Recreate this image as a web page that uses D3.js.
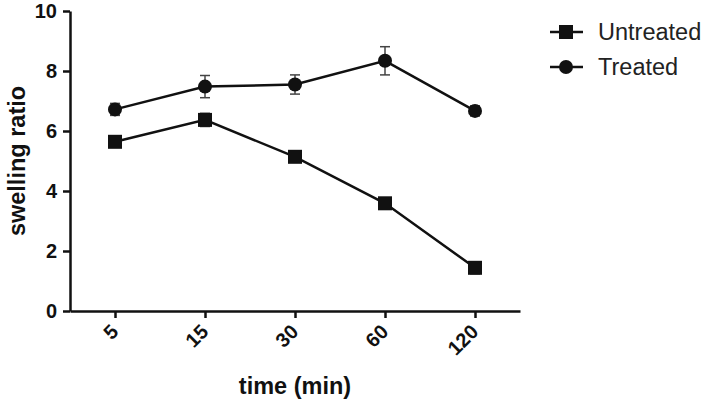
<!DOCTYPE html>
<html>
<head>
<meta charset="utf-8">
<script src="https://cdn.jsdelivr.net/npm/d3@7/dist/d3.min.js"></script>
<style>
  html, body { margin: 0; padding: 0; background: #fff; }
  svg { display: block; font-family: "Liberation Sans", Arial, sans-serif; }
</style>
</head>
<body>
<div id="chart"></div>
<script>
// data
const timeLabels = ['5', '15', '30', '60', '120'];
const untreated = [5.64, 6.37, 5.14, 3.59, 1.44];
const untreatedErr = [0.1, 0.22, 0.1, 0.1, 0.2];
const treated = [6.72, 7.48, 7.55, 8.34, 6.67];
const treatedErr = [0.2, 0.37, 0.32, 0.47, 0.17];
const yTicks = [0, 2, 4, 6, 8, 10];

const width = 704;
const height = 406;
const margin = { top: 11, right: 184, bottom: 95, left: 70 };
const ink = '#111';

const svg = d3.select('#chart').append('svg')
  .attr('width', width)
  .attr('height', height);

const x = d3.scalePoint()
  .domain(timeLabels)
  .range([margin.left, width - margin.right])
  .padding(0.5);

const y = d3.scaleLinear()
  .domain([0, 10])
  .range([height - margin.bottom, margin.top]);

// X axis
const xAxis = svg.append('g')
  .attr('transform', `translate(0,${height - margin.bottom})`)
  .call(d3.axisBottom(x).tickSize(7).tickSizeOuter(0));
xAxis.selectAll('text')
  .attr('font-size', '20px')
  .attr('font-weight', 'bold')
  .attr('fill', ink)
  .attr('text-anchor', 'end')
  .attr('y', 0)
  .attr('dy', 0)
  .attr('transform', 'translate(4,22) rotate(-45)');

// Y axis
const yAxis = svg.append('g')
  .attr('transform', `translate(${margin.left},0)`)
  .call(d3.axisLeft(y).tickValues(yTicks).tickSize(7).tickSizeOuter(0));
yAxis.selectAll('text')
  .attr('font-size', '20px')
  .attr('font-weight', 'bold')
  .attr('fill', ink)
  .attr('x', -13);

svg.selectAll('.domain, .tick line')
  .attr('stroke', ink)
  .attr('stroke-width', 2.5);

// axis titles
svg.append('text')
  .attr('transform', `translate(25,${y(5)}) rotate(-90)`)
  .attr('text-anchor', 'middle')
  .attr('font-size', '23.5px')
  .attr('font-weight', 'bold')
  .attr('fill', ink)
  .text('swelling ratio');

svg.append('text')
  .attr('x', x('30'))
  .attr('y', 394)
  .attr('text-anchor', 'middle')
  .attr('font-size', '23.5px')
  .attr('font-weight', 'bold')
  .attr('fill', ink)
  .text('time (min)');

const series = [
  { name: 'Untreated', values: untreated, err: untreatedErr, shape: 'square' },
  { name: 'Treated', values: treated, err: treatedErr, shape: 'circle' }
];

const line = d3.line()
  .x(d => x(d.t))
  .y(d => y(d.v));

function drawMarker(g, shape, cx, cy) {
  if (shape === 'square') {
    g.append('rect')
      .attr('x', cx - 7).attr('y', cy - 7)
      .attr('width', 14).attr('height', 14)
      .attr('fill', ink);
  } else {
    g.append('circle')
      .attr('cx', cx).attr('cy', cy).attr('r', 7)
      .attr('fill', ink);
  }
}

series.forEach(s => {
  const pts = timeLabels.map((t, i) => ({ t, v: s.values[i], e: s.err[i] }));
  const g = svg.append('g');

  // error bars
  pts.forEach(p => {
    const cx = x(p.t);
    const top = y(p.v + p.e);
    const bot = y(p.v - p.e);
    g.append('line')
      .attr('x1', cx).attr('x2', cx).attr('y1', top).attr('y2', bot)
      .attr('stroke', '#444').attr('stroke-width', 1.5);
    [top, bot].forEach(yy => g.append('line')
      .attr('x1', cx - 5).attr('x2', cx + 5).attr('y1', yy).attr('y2', yy)
      .attr('stroke', '#444').attr('stroke-width', 1.5));
  });

  g.append('path')
    .attr('d', line(pts))
    .attr('fill', 'none')
    .attr('stroke', ink)
    .attr('stroke-width', 2.5);

  pts.forEach(p => drawMarker(g, s.shape, x(p.t), y(p.v)));
});

// legend
const legend = svg.append('g');
series.forEach((s, i) => {
  const ly = 32 + i * 35;
  legend.append('line')
    .attr('x1', 550).attr('x2', 583).attr('y1', ly).attr('y2', ly)
    .attr('stroke', ink).attr('stroke-width', 2.5);
  drawMarker(legend, s.shape, 566, ly);
  legend.append('text')
    .attr('x', 598)
    .attr('y', ly)
    .attr('dy', '0.35em')
    .attr('font-size', '23.5px')
    .attr('fill', '#222')
    .text(s.name);
});
</script>
</body>
</html>
